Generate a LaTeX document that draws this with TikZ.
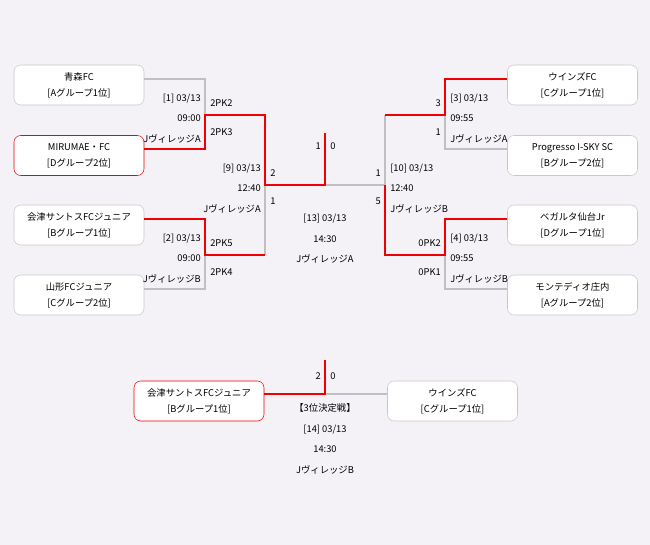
\documentclass[tikz,border=0pt]{standalone}
\usepackage{fontspec}
\setmainfont{Noto Sans CJK JP}
\definecolor{bg}{RGB}{244,242,246}
\definecolor{boxgray}{RGB}{200,200,200}
\definecolor{linegray}{RGB}{192,192,192}
\definecolor{winred}{RGB}{240,0,0}
\tikzset{
  team/.style={draw=boxgray, fill=white, rounded corners=5pt, minimum width=97.5pt,
    minimum height=30pt, align=center, inner sep=0pt, font=\fontsize{7pt}{12pt}\selectfont},
  winteam/.style={team, draw=winred},
  win/.style={draw=winred, line width=1.5pt},
  lose/.style={draw=linegray, line width=1.5pt},
  info/.style={inner sep=0pt, font=\fontsize{7pt}{15.4pt}\selectfont},
  score/.style={inner sep=0pt, font=\fontsize{7pt}{8pt}\selectfont}
}
\begin{document}
\begin{tikzpicture}[x=0.75pt, y=-0.75pt]
    \useasboundingbox (0,0) rectangle (650,545);
    \fill[bg] (0,0) rectangle (650,545);
    % teams
    \node[team] (aomori) at (79,85) {青森FC\\{}[Aグループ1位]};
    \node[winteam] (mirumae) at (79,155.5) {MIRUMAE・FC\\{}[Dグループ2位]};
    \node[team] (aizu) at (79,225) {会津サントスFCジュニア\\{}[Bグループ1位]};
    \node[team] (yamagata) at (79,295) {山形FCジュニア\\{}[Cグループ2位]};
    \node[team] (winds) at (572.5,85) {ウインズFC\\{}[Cグループ1位]};
    \node[team] (progresso) at (572.5,155.5) {Progresso I-SKY SC\\{}[Bグループ2位]};
    \node[team] (vegalta) at (572.5,225) {ベガルタ仙台Jr\\{}[Dグループ1位]};
    \node[team] (montedio) at (572.5,295) {モンテディオ庄内\\{}[Aグループ2位]};
    \node[winteam] (aizu3) at (199,401) {会津サントスFCジュニア\\{}[Bグループ1位]};
    \node[team] (winds3) at (452.5,401) {ウインズFC\\{}[Cグループ1位]};
    % joints
    \coordinate (j1) at (205,115);
    \coordinate (j2) at (205,255);
    \coordinate (j9) at (265,185);
    \coordinate (j13) at (325,185);
    \coordinate (f13) at (325,133);
    \coordinate (j10) at (385,185);
    \coordinate (j3) at (445,115);
    \coordinate (j4) at (445,255);
    \coordinate (j14) at (325,394);
    \coordinate (f14) at (325,360);
    % losers
    \draw[lose] ([yshift=4.5pt]aomori.east) -| (j1);
    \draw[lose] ([yshift=4.5pt]yamagata.east) -| (j2);
    \draw[lose] (j2 -| j9) -- (j9);
    \draw[lose] ([yshift=4.5pt]progresso.west) -| (j3);
    \draw[lose] ([yshift=4.5pt]montedio.west) -| (j4);
    \draw[lose] (j3 -| j10) -- (j10) -- (j13);
    \draw[lose] ([yshift=5.25pt]winds3.west) -- (j14);
    % winners
    \draw[win] ([yshift=4.5pt]mirumae.east) -| (j1) -| (j9) -- (j13) -- (f13);
    \draw[win] ([yshift=4.5pt]aizu.east) -| (j2) -- (j2 -| j9);
    \draw[win] ([yshift=4.5pt]winds.west) -| (j3) -- (j3 -| j10);
    \draw[win] ([yshift=4.5pt]vegalta.west) -| (j4) -| (j10);
    \draw[win] ([yshift=5.25pt]aizu3.east) -| (f14);
    % match info
    \node[info, align=right, anchor=east] (m1) at (201,118.5) {[1] 03/13\\09:00\\JヴィレッジA};
    \node[info, align=right, anchor=east] (m2) at (201,258.5) {[2] 03/13\\09:00\\JヴィレッジB};
    \node[info, align=right, anchor=east] (m9) at (261,188.5) {[9] 03/13\\12:40\\JヴィレッジA};
    \node[info, align=left, anchor=west] (m10) at (390,188.5) {[10] 03/13\\12:40\\JヴィレッジB};
    \node[info, align=left, anchor=west] (m3) at (450,118.5) {[3] 03/13\\09:55\\JヴィレッジA};
    \node[info, align=left, anchor=west] (m4) at (450,258.5) {[4] 03/13\\09:55\\JヴィレッジB};
    \node[info, align=center] (m13) at (325,239) {[13] 03/13\\14:30\\JヴィレッジA};
    \node[info, align=center] (m14) at (325,439) {【3位決定戦】\\{}[14] 03/13\\14:30\\JヴィレッジB};
    % scores
    \node[score, anchor=west] (s1a) at (210,103) {2PK2};
    \node[score, anchor=west] (s1b) at (210,132) {2PK3};
    \node[score, anchor=west] (s2a) at (210,243) {2PK5};
    \node[score, anchor=west] (s2b) at (210,272) {2PK4};
    \node[score, anchor=west] (s9a) at (270,173) {2};
    \node[score, anchor=west] (s9b) at (270,201) {1};
    \node[score, anchor=east] (s13a) at (321,146) {1};
    \node[score, anchor=west] (s13b) at (330,146) {0};
    \node[score, anchor=east] (s10a) at (381,173) {1};
    \node[score, anchor=east] (s10b) at (381,201) {5};
    \node[score, anchor=east] (s3a) at (441,103) {3};
    \node[score, anchor=east] (s3b) at (441,132) {1};
    \node[score, anchor=east] (s4a) at (441,243) {0PK2};
    \node[score, anchor=east] (s4b) at (441,272) {0PK1};
    \node[score, anchor=east] (s14a) at (321,376) {2};
    \node[score, anchor=west] (s14b) at (330,376) {0};
\end{tikzpicture}
\end{document}
